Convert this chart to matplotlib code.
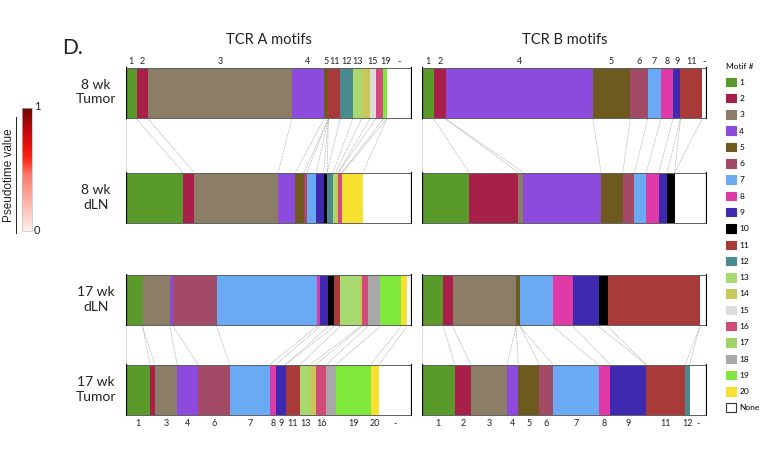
import matplotlib
matplotlib.use("Agg")
import matplotlib.pyplot as plt
import numpy as np
from matplotlib.patches import Patch
from matplotlib.colors import LinearSegmentedColormap

plt.rcParams['font.family'] = ['Lato', 'DejaVu Sans']

# ---------------- data ----------------
motif_order = [str(i) for i in range(1, 21)] + ['-']
motif_colors = ['#5a9a2a', '#a8204a', '#8c7d66', '#8c4bdc', '#6e5a1e', '#a34a66',
                '#6aaaf5', '#e03aa8', '#3e2ab0', '#000000', '#a83a3a', '#4a8a8e',
                '#a8d870', '#c8c85a', '#dcdcdc', '#d04a7a', '#a0d468', '#a8a8a8',
                '#80e83c', '#f8e030', '#ffffff']
legend_labels = [str(i) for i in range(1, 21)] + ['None']

row_labels = ['8 wk\nTumor', '8 wk\ndLN', '17 wk\ndLN', '17 wk\nTumor']

# TCR A
a_8wk_tumor_motifs = ['1', '2', '3', '4', '5', '11', '12', '13', '14', '15', '16', '19', '-']
a_8wk_tumor_pct = [3.7, 4.1, 50.1, 11.3, 1.5, 4.1, 4.4, 3.1, 2.9, 2.1, 2.6, 1.2, 8.8]
a_8wk_dln_motifs = ['1', '2', '3', '4', '5', '6', '7', '9', '10', '12', '13', '14', '16', '20', '-']
a_8wk_dln_pct = [20.0, 3.7, 29.5, 6.0, 3.0, 1.0, 3.3, 2.6, 1.2, 2.1, 0.9, 0.9, 1.4, 7.2, 17.2]
a_17wk_dln_motifs = ['1', '3', '4', '6', '7', '8', '9', '10', '11', '13', '14', '16', '18', '19', '20', '-']
a_17wk_dln_pct = [5.8, 9.5, 1.2, 15.2, 35.0, 1.2, 2.9, 2.0, 2.1, 7.0, 0.6, 2.0, 4.4, 7.3, 2.0, 1.8]
a_17wk_tumor_motifs = ['1', '2', '3', '4', '6', '7', '8', '9', '11', '13', '14', '16', '18', '19', '20', '-']
a_17wk_tumor_pct = [8.4, 1.7, 7.8, 7.3, 11.1, 14.0, 2.1, 3.4, 5.0, 3.7, 1.9, 3.7, 3.3, 12.1, 3.0, 11.5]

# TCR B
b_8wk_tumor_motifs = ['1', '2', '4', '5', '6', '7', '8', '9', '11', '-']
b_8wk_tumor_pct = [4.3, 4.2, 51.5, 13.1, 6.1, 4.7, 4.2, 2.6, 7.6, 1.7]
b_8wk_dln_motifs = ['1', '2', '3', '4', '5', '6', '7', '8', '9', '10', '-']
b_8wk_dln_pct = [16.7, 17.2, 1.8, 27.2, 7.6, 4.1, 4.1, 4.4, 2.9, 2.7, 11.3]
b_17wk_dln_motifs = ['1', '2', '3', '5', '7', '8', '9', '10', '11', '-']
b_17wk_dln_pct = [7.6, 3.3, 22.2, 1.4, 11.5, 7.2, 8.8, 3.2, 32.3, 2.5]
b_17wk_tumor_motifs = ['1', '2', '3', '4', '5', '6', '7', '8', '9', '11', '12', '-']
b_17wk_tumor_pct = [11.7, 5.5, 12.8, 3.9, 7.4, 4.7, 16.0, 4.1, 12.6, 13.7, 1.5, 6.1]

a_top_labels = ['1', '2', '3', '4', '5', '11', '12', '13', '15', '19', '-']
a_bottom_labels = ['1', '3', '4', '6', '7', '8', '9', '11', '13', '16', '19', '20', '-']
b_top_labels = ['1', '2', '4', '5', '6', '7', '8', '9', '11', '-']
b_bottom_labels = ['1', '2', '3', '4', '5', '6', '7', '8', '9', '11', '12', '-']

# ---------------- layout ----------------
W, H = 774, 472
fig = plt.figure(figsize=(W / 100, H / 100), dpi=100)
row_y = [93, 198.5, 300.5, 390.5]
bar_h = 50
y_top, y_bot = 40, 440
color_of = dict(zip(motif_order, motif_colors))
txt = '#222222'


def cum_bounds(motifs, pct):
    d = dict(zip(motifs, pct))
    vals = np.array([d.get(m, 0.0) for m in motif_order])
    total = vals.sum()
    vals = vals / total * 100
    return np.cumsum(vals), vals, set(motifs)


def draw_panel(x0, x1, rows, top_labels, bottom_labels, title):
    ax = fig.add_axes([x0 / W, (H - y_bot) / H, (x1 - x0) / W, (y_bot - y_top) / H])
    ax.set_xlim(0, 100)
    ax.set_ylim(y_bot, y_top)
    ax.axis('off')
    infos = []
    for (motifs, pct), yc in zip(rows, row_y):
        cum, vals, present = cum_bounds(motifs, pct)
        lefts = cum - vals
        for m, l, v in zip(motif_order, lefts, vals):
            if v > 0:
                ax.barh(yc, v, left=l, height=bar_h, color=color_of[m], linewidth=0)
        ax.add_patch(plt.Rectangle((0, yc - bar_h / 2), 100, bar_h, fill=False,
                                   edgecolor='#606060', linewidth=0.7))
        ax.plot([0, 0], [yc - bar_h / 2, yc + bar_h / 2], color='black', lw=1.6)
        ax.plot([100, 100], [yc - bar_h / 2, yc + bar_h / 2], color='black', lw=1.6)
        infos.append((cum, vals, lefts, present))
    # connecting dotted lines
    for i, j in [(0, 1), (2, 3)]:
        cum_a, _, _, pa = infos[i]
        cum_b, _, _, pb = infos[j]
        ya = row_y[i] + bar_h / 2 + 1
        yb = row_y[j] - bar_h / 2 - 1
        ax.plot([0, 0], [ya, yb], color='#a0a0a0', lw=0.55, ls=(0, (1, 1)))
        for k, m in enumerate(motif_order):
            if m in pa or m in pb:
                ax.plot([cum_a[k], cum_b[k]], [ya, yb], color='#a0a0a0', lw=0.55,
                        ls=(0, (1, 1)))
    # labels
    cum, vals, lefts, _ = infos[0]
    for m in top_labels:
        k = motif_order.index(m)
        ax.text(lefts[k] + vals[k] / 2, 62, m, ha='center', va='center',
                fontsize=6.5, color=txt)
    cum, vals, lefts, _ = infos[3]
    for m in bottom_labels:
        k = motif_order.index(m)
        ax.text(lefts[k] + vals[k] / 2, 424, m, ha='center', va='center',
                fontsize=6.5, color=txt)
    ax.text(50, y_top, title, ha='center', va='center', fontsize=10.5, color=txt)
    return ax


axA = draw_panel(126, 412, [(a_8wk_tumor_motifs, a_8wk_tumor_pct),
                            (a_8wk_dln_motifs, a_8wk_dln_pct),
                            (a_17wk_dln_motifs, a_17wk_dln_pct),
                            (a_17wk_tumor_motifs, a_17wk_tumor_pct)],
                 a_top_labels, a_bottom_labels, 'TCR A motifs')
axB = draw_panel(421.5, 707, [(b_8wk_tumor_motifs, b_8wk_tumor_pct),
                              (b_8wk_dln_motifs, b_8wk_dln_pct),
                              (b_17wk_dln_motifs, b_17wk_dln_pct),
                              (b_17wk_tumor_motifs, b_17wk_tumor_pct)],
                 b_top_labels, b_bottom_labels, 'TCR B motifs')

# row labels
for lab, yc in zip(row_labels, row_y):
    fig.text(96 / W, 1 - (yc - 1) / H, lab, ha='center', va='center',
             fontsize=10, color=txt, linespacing=1.25)

# panel letter
fig.text(62 / W, 1 - 48 / H, 'D.', ha='left', va='center', fontsize=15, color=txt)

# colorbar
cmap = LinearSegmentedColormap.from_list('pt', [(0, '#fdf0ec'), (0.45, '#ff7a6a'),
                                                (0.6, '#ff1e10'), (0.8, '#c40808'),
                                                (1, '#6a0808')])
cax = fig.add_axes([22 / W, 1 - 231 / H, 10 / W, 123 / H])
grad = np.linspace(0, 1, 256).reshape(-1, 1)
cax.imshow(grad, aspect='auto', cmap=cmap, origin='lower', extent=[0, 1, 0, 1])
cax.set_xticks([])
cax.set_yticks([])
for s in cax.spines.values():
    s.set_color('#c0c0c0')
    s.set_linewidth(0.5)
fig.text(34 / W, 1 - 106 / H, '1', fontsize=8, va='center', ha='left', color=txt)
fig.text(34 / W, 1 - 230 / H, '0', fontsize=8, va='center', ha='left', color=txt)
fig.text(9 / W, 1 - 175 / H, 'Pseudotime value', rotation=90, fontsize=8.5,
         ha='center', va='center', color=txt, family=['Liberation Sans', 'DejaVu Sans'])
fig.add_artist(plt.Line2D([16 / W, 16 / W], [1 - 233 / H, 1 - 117 / H],
                          transform=fig.transFigure, color=txt, lw=0.7))

# legend
handles = [Patch(facecolor=c, edgecolor=('#333333' if l == 'None' else c), linewidth=0.8)
           for c, l in zip(motif_colors, legend_labels)]
leg = fig.legend(handles, legend_labels, loc='upper left',
                 bbox_to_anchor=(720 / W, 1 - 57 / H), frameon=False,
                 title='Motif #', fontsize=6, title_fontsize=6,
                 handlelength=1.2, handleheight=1.2, handletextpad=0.4,
                 labelspacing=0.93, borderpad=0.2)
leg._legend_box.align = 'left'

fig.savefig('out.png', dpi=100)
